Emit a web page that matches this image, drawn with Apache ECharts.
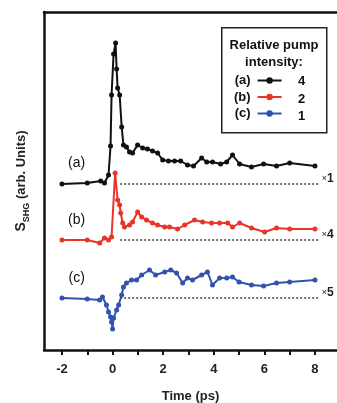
<!DOCTYPE html>
<html>
<head>
<meta charset="utf-8">
<script src="https://cdn.jsdelivr.net/npm/echarts@6/dist/echarts.min.js"></script>
<style>
  html, body { margin: 0; padding: 0; background: #fff; }
  #chart { width: 337px; height: 403px; }
</style>
</head>
<body>
<div id="chart"></div>
<script>
// time axis (ps)
const xTicks = [-2, -1, 0, 1, 2, 3, 4, 5, 6, 7, 8]
const xLabels = [-2, 0, 2, 4, 6, 8]

// trace (a), pump intensity 4
const timeA = [-2, -1, -0.47, -0.32, -0.16, -0.08, -0.04, 0.04, 0.12, 0.16, 0.2, 0.28, 0.36, 0.43, 0.55, 0.67, 0.79, 0.99, 1.19, 1.38, 1.58, 1.78, 1.98, 2.21, 2.45, 2.69, 2.96, 3.2, 3.52, 3.72, 3.95, 4.27, 4.51, 4.74, 5.02, 5.49, 5.97, 6.48, 7.0, 8.0]
const valA = [166, 167, 169, 167, 175, 204, 255, 296, 307, 281, 262, 255, 223, 205, 203, 198, 197, 205, 202, 201, 199, 197, 190, 189, 189, 189, 185, 184, 192, 188, 188, 186, 188, 195, 186, 183, 186, 184, 187, 184]

// trace (b), pump intensity 2
const timeB = [-2, -1, -0.51, -0.32, -0.16, -0.04, 0.1, 0.2, 0.28, 0.32, 0.4, 0.47, 0.67, 0.79, 0.99, 1.15, 1.34, 1.58, 1.78, 2.06, 2.25, 2.57, 2.85, 3.24, 3.56, 3.91, 4.23, 4.55, 4.74, 5.02, 5.49, 6.01, 6.48, 7.0, 8.0]
const valB = [110, 110, 107, 112, 110, 113, 177, 150, 145, 137, 127, 123, 125, 128, 138, 133, 130, 127, 125, 123, 123, 121, 125, 130, 128, 127, 127, 127, 123, 127, 122, 118, 122, 121, 121]

// trace (c), pump intensity 1
const timeC = [-2, -1, -0.51, -0.4, -0.24, -0.16, -0.08, -0.04, 0.0, 0.04, 0.16, 0.24, 0.36, 0.43, 0.55, 0.75, 0.95, 1.15, 1.46, 1.7, 2.06, 2.3, 2.53, 2.77, 2.96, 3.16, 3.52, 3.75, 3.95, 4.23, 4.51, 4.74, 5.0, 5.49, 5.97, 6.48, 7.0, 8.0]
const valC = [52, 51, 50, 53, 45, 38, 33, 28, 21, 32, 40, 45, 55, 63, 67, 70, 70, 75, 80, 75, 78, 80, 77, 67, 72, 70, 75, 78, 65, 72, 72, 73, 68, 65, 64, 67, 68, 70]

// dotted zero lines and scale factors
const baselines = [166, 110, 52]
const baseStart = 0.3
const baseEnd = 8.15
const scaleFactors = ['1', '4', '5']
const traceNames = ['(a)', '(b)', '(c)']
const pumpValues = ['4', '2', '1']
const traceColors = ['#111111', '#e8352a', '#3352b0']
const labelPos = [[-1.42, 187], [-1.42, 130], [-1.42, 72]]

const font = 'Liberation Sans, Arial, sans-serif'
const zip = (t, v) => t.map((x, i) => [x, v[i]])
const traces = [zip(timeA, valA), zip(timeB, valB), zip(timeC, valC)]

const chart = echarts.init(document.getElementById('chart'), null, { renderer: 'canvas' })

const series = traces.map((data, i) => ({
  name: traceNames[i],
  type: 'line',
  data: data,
  color: traceColors[i],
  symbol: 'circle',
  symbolSize: 5,
  lineStyle: { width: 2 },
  animation: false,
  markLine: {
    silent: true,
    symbol: 'none',
    lineStyle: { type: [2, 2], color: '#444', width: 1.5 },
    label: {
      show: true,
      position: 'end',
      distance: 3,
      offset: [0, -5],
      formatter: '{x|×}{n|' + scaleFactors[i] + '}',
      rich: {
        x: { fontSize: 9, color: '#222', fontFamily: font },
        n: { fontSize: 12, color: '#222', fontFamily: font, fontWeight: 'bold' }
      }
    },
    data: [[{ coord: [baseStart, baselines[i]] }, { coord: [baseEnd, baselines[i]] }]]
  },
  markPoint: {
    silent: true,
    symbol: 'circle',
    symbolSize: 0,
    label: {
      show: true,
      color: '#111',
      fontSize: 14,
      fontFamily: font,
      formatter: traceNames[i]
    },
    data: [{ coord: labelPos[i] }]
  }
}))

const option = {
  backgroundColor: '#fff',
  animation: false,
  grid: { left: 44, right: 0, top: 12, bottom: 53, outerBoundsMode: 'none', containLabel: false },
  legend: {
    orient: 'vertical',
    left: 234,
    top: 74,
    align: 'right',
    itemGap: 3.5,
    itemWidth: 24,
    itemHeight: 8,
    padding: 0,
    data: traceNames,
    textStyle: { fontSize: 13, fontWeight: 'bold', color: '#111', fontFamily: font, padding: [0, 2, 0, 0] }
  },
  xAxis: [
    {
      type: 'value',
      min: -2.71,
      max: 8.87,
      name: 'Time (ps)',
      nameLocation: 'middle',
      nameGap: 40,
      nameTextStyle: { fontSize: 13, fontWeight: 'bold', color: '#222', fontFamily: font },
      splitLine: { show: false },
      axisLine: { lineStyle: { color: '#111', width: 2.5 } },
      axisTick: { customValues: xTicks, length: 5, lineStyle: { width: 2, color: '#111' } },
      axisLabel: {
        customValues: xLabels,
        margin: 13,
        fontSize: 13,
        fontWeight: 'bold',
        color: '#222',
        fontFamily: font
      }
    },
    {
      type: 'value',
      position: 'top',
      min: -2.71,
      max: 8.87,
      splitLine: { show: false },
      axisLine: { show: true, onZero: false, lineStyle: { color: '#111', width: 2.5 } },
      axisTick: { show: false },
      axisLabel: { show: false }
    }
  ],
  yAxis: {
    type: 'value',
    min: 0,
    max: 338,
    name: '{s|S}{sub|SHG}{n| (arb. Units)}',
    nameLocation: 'middle',
    nameGap: 16,
    nameTextStyle: {
      color: '#222',
      fontFamily: font,
      rich: {
        s: { fontSize: 14, fontWeight: 'bold', fontFamily: font, color: '#222', verticalAlign: 'bottom', lineHeight: 16 },
        sub: { fontSize: 9, fontWeight: 'bold', fontFamily: font, color: '#222', verticalAlign: 'bottom', lineHeight: 10, padding: [0, 0, -3, 0] },
        n: { fontSize: 13, fontWeight: 'bold', fontFamily: font, color: '#222', verticalAlign: 'bottom', lineHeight: 16 }
      }
    },
    splitLine: { show: false },
    axisLine: { show: true, onZero: false, lineStyle: { color: '#111', width: 2.5 } },
    axisTick: { show: false },
    axisLabel: { show: false }
  },
  graphic: [
    {
      type: 'rect',
      left: 221,
      top: 27,
      shape: { width: 105, height: 105 },
      style: { fill: '#fff', stroke: '#222', lineWidth: 1.5 },
      z: 0
    },
    {
      type: 'text',
      x: 274,
      y: 37,
      style: {
        text: 'Relative pump\nintensity:',
        align: 'center',
        fontSize: 13,
        lineHeight: 17,
        fontWeight: 'bold',
        fill: '#111',
        fontFamily: font
      },
      z: 5
    }
  ].concat(pumpValues.map((v, i) => ({
    type: 'text',
    left: 298,
    top: 75 + i * 17.5,
    style: { text: v, fontSize: 13, fontWeight: 'bold', fill: '#111', fontFamily: font },
    z: 5
  }))),
  series: series
}

chart.setOption(option)
</script>
</body>
</html>
